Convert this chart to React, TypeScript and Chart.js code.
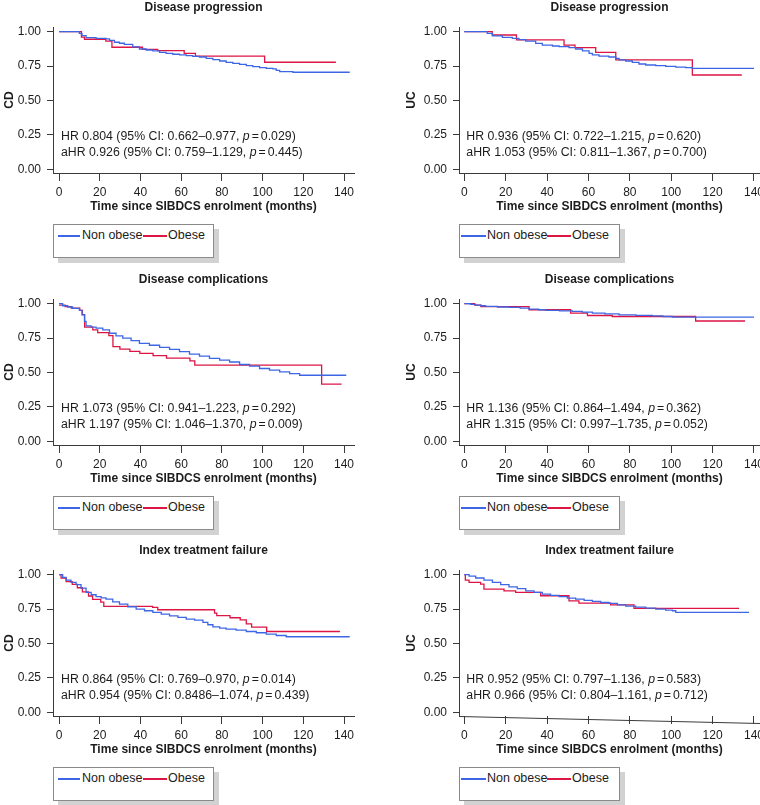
import React, { useEffect, useRef } from "react";
import { Chart, registerables } from "chart.js";

Chart.register(...registerables);

type Pt = [number, number];

const FONT = "'Liberation Sans', Arial, Helvetica, sans-serif";
const TEXT = "#1c1c1c";
const AXIS = "#3a3a3a";

const monthTicks = [0, 20, 40, 60, 80, 100, 120, 140];
const survivalTicks = [0, 0.25, 0.5, 0.75, 1];
const groupNames = ["Non obese", "Obese"];
const groupColors = ["#3D66E4", "#DC1544"];
const xAxisLabel = "Time since SIBDCS enrolment (months)";

const panelTitles = [
  "Disease progression",
  "Disease progression",
  "Disease complications",
  "Disease complications",
  "Index treatment failure",
  "Index treatment failure",
];
const panelDiseases = ["CD", "UC", "CD", "UC", "CD", "UC"];

const hrValues = ["0.804", "0.936", "1.073", "1.136", "0.864", "0.952"];
const hrIntervals = ["0.662–0.977", "0.722–1.215", "0.941–1.223", "0.864–1.494", "0.769–0.970", "0.797–1.136"];
const hrPValues = ["0.029", "0.620", "0.292", "0.362", "0.014", "0.583"];
const ahrValues = ["0.926", "1.053", "1.197", "1.315", "0.954", "0.966"];
const ahrIntervals = ["0.759–1.129", "0.811–1.367", "1.046–1.370", "0.997–1.735", "0.8486–1.074", "0.804–1.161"];
const ahrPValues = ["0.445", "0.700", "0.009", "0.052", "0.439", "0.712"];

// Kaplan-Meier curves: [month, survival after step]
const cdProgressionNonObese: Pt[] = [
  [0, 1], [10.0, 0.988], [11.3, 0.971], [13.3, 0.957], [18.2, 0.952], [23.1, 0.947], [24.8, 0.937],
  [27.2, 0.923], [29.7, 0.916], [32.1, 0.908], [36.2, 0.889], [39.5, 0.874], [42.8, 0.867], [46.1, 0.86],
  [49.4, 0.85], [52.6, 0.843], [55.9, 0.836], [59.2, 0.831], [62.5, 0.826], [65.7, 0.821], [69.0, 0.816],
  [72.3, 0.806], [75.6, 0.797], [78.9, 0.787], [82.1, 0.777], [85.4, 0.77], [88.7, 0.763], [92.0, 0.753],
  [95.2, 0.746], [98.5, 0.739], [101.8, 0.734], [105.1, 0.729], [106.7, 0.719], [108.4, 0.709],
  [114.9, 0.705], [142.8, 0.705],
];
const cdProgressionObese: Pt[] = [
  [0, 1], [11, 0.96], [12.5, 0.945], [23, 0.932], [26, 0.887], [41, 0.872], [48.5, 0.862],
  [61.5, 0.843], [67, 0.823], [101, 0.778], [136, 0.778],
];
const ucProgressionNonObese: Pt[] = [
  [0, 1], [11.1, 0.988], [13.6, 0.969], [18.4, 0.959], [23.2, 0.952], [26.4, 0.942], [29.7, 0.932],
  [34.5, 0.915], [37.7, 0.903], [42.6, 0.896], [45.8, 0.891], [50.6, 0.884], [53.8, 0.874], [57.1, 0.86],
  [60.3, 0.843], [61.9, 0.831], [65.1, 0.823], [69.9, 0.816], [73.2, 0.806], [74.8, 0.795], [78.0, 0.787],
  [81.2, 0.777], [84.4, 0.765], [87.7, 0.758], [92.5, 0.753], [97.3, 0.748], [102.2, 0.743],
  [107.0, 0.739], [110.2, 0.734], [140, 0.734],
];
const ucProgressionObese: Pt[] = [
  [0, 1], [13.5, 0.976], [25.2, 0.94], [48.2, 0.903], [53.5, 0.884], [63.5, 0.85], [73.2, 0.795],
  [110.2, 0.685], [134.1, 0.685],
];
const cdComplicationsNonObese: Pt[] = [
  [0, 1], [1.8, 0.985], [4.3, 0.976], [6.7, 0.966], [10.0, 0.951], [11.3, 0.919], [12.5, 0.871],
  [13.3, 0.839], [15.8, 0.829], [18.2, 0.822], [21.5, 0.81], [24.8, 0.785], [28.0, 0.766], [31.3, 0.749],
  [35.4, 0.732], [39.5, 0.712], [44.4, 0.698], [49.4, 0.683], [54.3, 0.668], [59.2, 0.651], [64.1, 0.634],
  [69.0, 0.619], [73.9, 0.602], [78.9, 0.59], [83.8, 0.576], [88.7, 0.558], [93.6, 0.546], [98.5, 0.529],
  [103.4, 0.517], [108.4, 0.505], [113.3, 0.492], [118.2, 0.48], [141.1, 0.48],
];
const cdComplicationsObese: Pt[] = [
  [0, 0.99], [3, 0.978], [6, 0.968], [10.2, 0.951], [11.5, 0.92], [12.6, 0.83], [16.6, 0.81],
  [19, 0.79], [24.5, 0.768], [26.5, 0.688], [29.9, 0.67], [34.8, 0.653], [39.7, 0.639], [46.2, 0.622],
  [52.8, 0.605], [64.3, 0.585], [66.7, 0.553], [129, 0.415], [138.8, 0.415],
];
const ucComplicationsNonObese: Pt[] = [
  [0, 1], [3, 0.995], [5.5, 0.99], [8, 0.985], [10.3, 0.98], [16, 0.976], [21.6, 0.973], [27, 0.968],
  [31.3, 0.961], [36, 0.956], [39.3, 0.951], [46, 0.948], [52.2, 0.944], [57, 0.938], [61.9, 0.931],
  [68, 0.926], [74.8, 0.919], [83, 0.915], [90.9, 0.912], [96, 0.907], [100.5, 0.903], [140, 0.903],
];
const ucComplicationsObese: Pt[] = [
  [0, 1], [5, 0.99], [8, 0.979], [31.3, 0.956], [51.4, 0.931], [59.5, 0.914], [71.5, 0.907],
  [111.8, 0.874], [135.7, 0.874],
];
const cdFailureNonObese: Pt[] = [
  [0, 1], [1.8, 0.98], [3.5, 0.961], [5.9, 0.944], [8.4, 0.927], [10.8, 0.903], [13.3, 0.871],
  [15.8, 0.854], [18.2, 0.84], [20.7, 0.832], [23.1, 0.823], [26.4, 0.803], [29.7, 0.786], [33.8, 0.767],
  [37.9, 0.75], [42.0, 0.738], [46.1, 0.726], [50.2, 0.714], [54.3, 0.701], [58.4, 0.689], [62.5, 0.677],
  [66.6, 0.67], [70.7, 0.653], [73.1, 0.636], [75.6, 0.621], [78.9, 0.612], [82.1, 0.604], [87.0, 0.597],
  [92.0, 0.587], [96.9, 0.578], [101.8, 0.568], [106.7, 0.558], [111.6, 0.549], [142.8, 0.549],
];
const cdFailureObese: Pt[] = [
  [0, 1], [1, 0.975], [3.5, 0.95], [6.5, 0.93], [9, 0.905], [11.5, 0.875], [14.5, 0.845], [16.5, 0.82],
  [20.5, 0.8], [22, 0.77], [46, 0.763], [48.5, 0.745], [76.4, 0.721], [77.5, 0.702], [84, 0.687],
  [89, 0.672], [92, 0.643], [94.6, 0.619], [102, 0.587], [138, 0.587],
];
const ucFailureNonObese: Pt[] = [
  [0, 1], [2.3, 0.99], [5.5, 0.976], [9.5, 0.961], [13.6, 0.944], [17.6, 0.927], [21.6, 0.912],
  [25.6, 0.898], [29.7, 0.883], [33.7, 0.871], [37.7, 0.859], [41.7, 0.849], [45.8, 0.84], [49.8, 0.83],
  [53.8, 0.823], [57.9, 0.813], [61.9, 0.806], [65.9, 0.798], [69.9, 0.791], [74.0, 0.781], [78.0, 0.772],
  [82.8, 0.764], [87.7, 0.757], [92.5, 0.75], [97.3, 0.742], [100.6, 0.738], [102.2, 0.726], [137.6, 0.726],
];
const ucFailureObese: Pt[] = [
  [0, 1], [0.5, 0.96], [2.3, 0.944], [7.9, 0.932], [9.5, 0.895], [19.2, 0.883], [24.8, 0.871],
  [36.9, 0.847], [50.6, 0.81], [55.4, 0.793], [70.7, 0.781], [82, 0.755], [132.8, 0.755],
];

const panelSeries: Pt[][][] = [
  [cdProgressionNonObese, cdProgressionObese],
  [ucProgressionNonObese, ucProgressionObese],
  [cdComplicationsNonObese, cdComplicationsObese],
  [ucComplicationsNonObese, ucComplicationsObese],
  [cdFailureNonObese, cdFailureObese],
  [ucFailureNonObese, ucFailureObese],
];

const ROW_TOPS = [0, 272, 543];
const CANVAS_H = 218;

function makeTextPlugin(index: number, tilt: number) {
  return {
    id: "panelText" + index,
    afterDraw(chart: any) {
      const { ctx, chartArea, scales } = chart;
      ctx.save();
      ctx.fillStyle = TEXT;
      ctx.font = `bold 12px ${FONT}`;
      ctx.textAlign = "center";
      ctx.textBaseline = "alphabetic";
      ctx.fillText(panelTitles[index], (chartArea.left + chartArea.right) / 2, 10.5);

      const x0 = scales.x.getPixelForValue(0) + 2;
      const y0 = scales.y.getPixelForValue(0);
      const lines: [string, string][] = [
        [`HR ${hrValues[index]} (95% CI: ${hrIntervals[index]}, `, hrPValues[index]],
        [`aHR ${ahrValues[index]} (95% CI: ${ahrIntervals[index]}, `, ahrPValues[index]],
      ];
      ctx.textAlign = "left";
      const f = `12.3px ${FONT}`;
      lines.forEach(([pre, p], k) => {
        const y = y0 - 29 + k * 16;
        let x = x0;
        ctx.font = f;
        ctx.fillText(pre, x, y);
        x += ctx.measureText(pre).width;
        ctx.font = `italic ${f}`;
        ctx.fillText("p", x, y);
        x += ctx.measureText("p").width + 2;
        ctx.font = f;
        ctx.fillText("=", x, y);
        x += ctx.measureText("=").width + 2;
        ctx.fillText(p + ")", x, y);
      });

      if (tilt) {
        ctx.strokeStyle = AXIS;
        ctx.lineWidth = 1;
        ctx.beginPath();
        ctx.moveTo(chartArea.left, chartArea.bottom + 0.5);
        ctx.lineTo(chartArea.right, chartArea.bottom + 0.5 + tilt);
        ctx.stroke();
      }
      ctx.restore();
    },
  };
}

type LegendLayout = { line1: number; line1W: number; text1: number; line2: number; line2W: number; text2: number };

function Legend({ left, top, lay }: { left: number; top: number; lay: LegendLayout }) {
  const textStyle = (x: number): React.CSSProperties => ({
    position: "absolute",
    left: x,
    top: 3,
    lineHeight: "15px",
    fontFamily: FONT,
    fontSize: 12.5,
    color: TEXT,
    whiteSpace: "nowrap",
  });
  const lineStyle = (x: number, w: number, c: string): React.CSSProperties => ({
    position: "absolute",
    left: x,
    top: 10,
    width: w,
    height: 2,
    background: c,
  });
  return (
    <div
      style={{
        position: "absolute",
        left,
        top,
        width: 161,
        height: 34,
        boxSizing: "border-box",
        border: "1px solid #8a8a8a",
        background: "#fff",
        boxShadow: "5px 5px 0 #d2d2d2",
      }}
    >
      <div style={lineStyle(lay.line1, lay.line1W, groupColors[0])} />
      <div style={textStyle(lay.text1)}>{groupNames[0]}</div>
      <div style={lineStyle(lay.line2, lay.line2W, groupColors[1])} />
      <div style={textStyle(lay.text2)}>{groupNames[1]}</div>
    </div>
  );
}

const leftLegend: LegendLayout = { line1: 4, line1W: 22, text1: 28, line2: 89, line2W: 24, text2: 114 };
const rightLegend: LegendLayout = { line1: 1, line1W: 25, text1: 27, line2: 87, line2W: 24, text2: 112 };

function Panel({ index }: { index: number }) {
  const ref = useRef<HTMLCanvasElement>(null);
  const col = index % 2;
  const rowTop = ROW_TOPS[Math.floor(index / 2)];
  const geo =
    col === 0
      ? { left: 0, width: 380, yWidth: 53, rightPad: 26, xMin: -2.95, xMax: 144.9, legendLeft: 53, yTitlePad: 2 }
      : { left: 400, width: 360, yWidth: 59, rightPad: 0, xMin: -2.56, xMax: 142.9, legendLeft: 459, yTitlePad: 4 };
  const tilt = index === 5 ? 7 : 0;

  useEffect(() => {
    const canvas = ref.current;
    if (!canvas) return;
    const tickFont = { family: FONT, size: 12 };
    const chart = new Chart(canvas, {
      type: "line",
      data: {
        datasets: panelSeries[index].map((pts, i) => ({
          label: groupNames[i],
          data: pts.map(([x, y]) => ({ x, y })),
          borderColor: groupColors[i],
          backgroundColor: groupColors[i],
          borderWidth: 1.3,
          pointRadius: 0,
          stepped: true,
          fill: false,
        })),
      },
      options: {
        animation: false,
        responsive: false,
        maintainAspectRatio: false,
        layout: { padding: { top: 27, right: geo.rightPad, left: 0, bottom: 0 } },
        plugins: {
          legend: { display: false },
          tooltip: { enabled: false },
          title: { display: false },
        },
        scales: {
          x: {
            type: "linear",
            min: geo.xMin,
            max: geo.xMax,
            afterBuildTicks: (s: any) => {
              s.ticks = monthTicks.map((v) => ({ value: v }));
            },
            afterFit: (s: any) => {
              s.height = CANVAS_H - 173;
              s.paddingLeft = 0;
              s.paddingRight = 0;
            },
            ticks: { font: tickFont, color: TEXT, padding: 4, maxRotation: 0, minRotation: 0, autoSkip: false },
            grid: { display: true, drawOnChartArea: false, drawTicks: true, tickLength: 8, color: AXIS, lineWidth: 1 },
            border: { display: !tilt, color: AXIS, width: 1 },
            title: {
              display: true,
              text: xAxisLabel,
              color: TEXT,
              font: { family: FONT, size: 12, weight: "bold" },
              padding: { top: 0, bottom: 4 },
            },
          },
          y: {
            type: "linear",
            min: -0.027,
            max: 1.034,
            afterBuildTicks: (s: any) => {
              s.ticks = survivalTicks.map((v) => ({ value: v }));
            },
            afterFit: (s: any) => {
              s.width = geo.yWidth;
              s.paddingTop = 0;
              s.paddingBottom = 0;
            },
            ticks: {
              font: tickFont,
              color: TEXT,
              padding: 6,
              callback: (v: any) => Number(v).toFixed(2),
            },
            grid: { display: true, drawOnChartArea: false, drawTicks: true, tickLength: 6, color: AXIS, lineWidth: 1 },
            border: { display: true, color: AXIS, width: 1 },
            title: {
              display: true,
              text: panelDiseases[index],
              color: TEXT,
              font: { family: FONT, size: 12, weight: "bold" },
              padding: { top: geo.yTitlePad, bottom: 0 },
            },
          },
        },
      } as any,
      plugins: [makeTextPlugin(index, tilt)],
    });
    return () => chart.destroy();
  }, [index]);

  return (
    <>
      <canvas
        ref={ref}
        width={geo.width}
        height={CANVAS_H}
        style={{ position: "absolute", left: geo.left, top: rowTop, width: geo.width, height: CANVAS_H }}
      />
      <Legend left={geo.legendLeft} top={rowTop + 224} lay={col === 0 ? leftLegend : rightLegend} />
    </>
  );
}

export default function App() {
  return (
    <div
      style={{
        position: "absolute",
        left: 0,
        top: 0,
        width: 760,
        height: 805,
        overflow: "hidden",
        background: "#fff",
      }}
    >
      {[0, 1, 2, 3, 4, 5].map((i) => (
        <Panel key={i} index={i} />
      ))}
    </div>
  );
}
